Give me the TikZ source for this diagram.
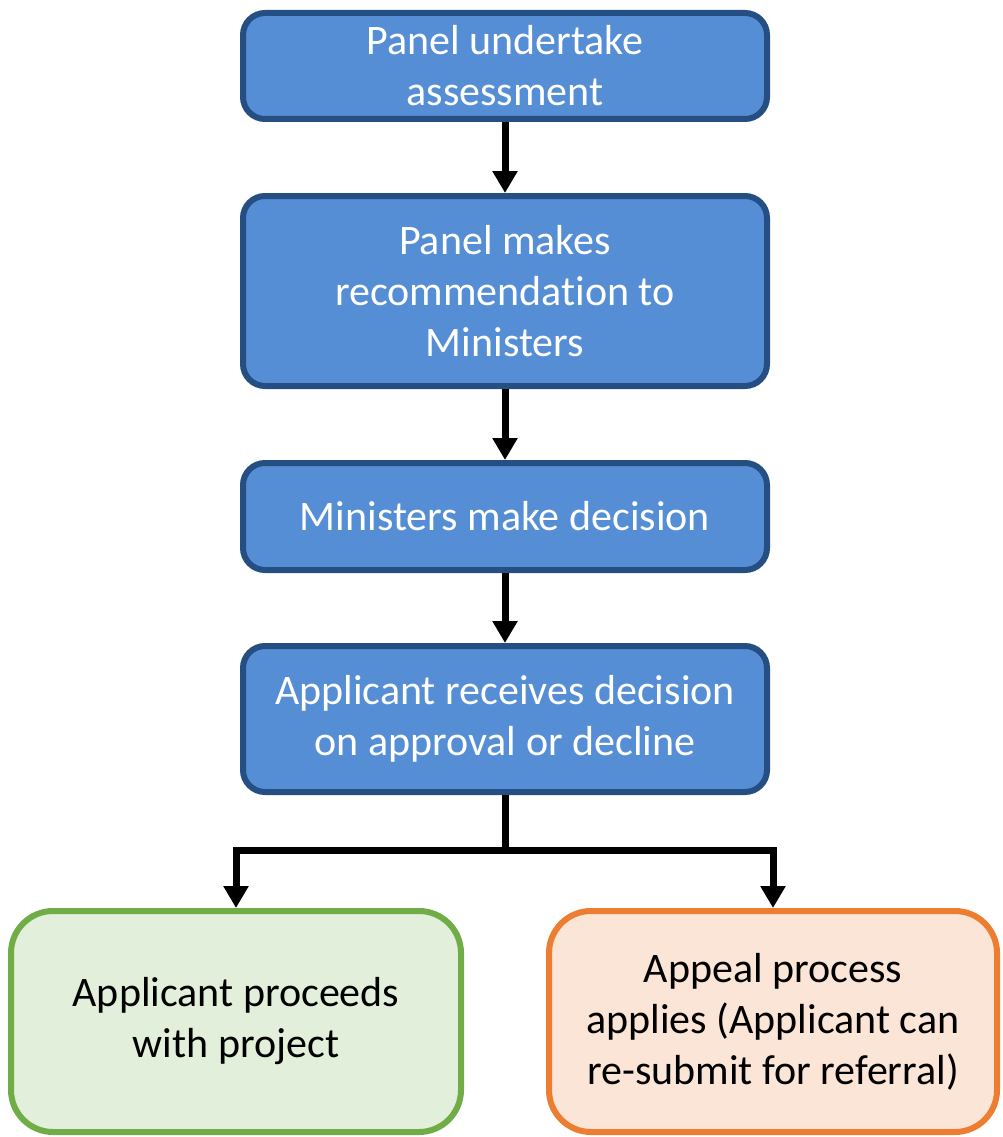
\documentclass[tikz,border=0pt]{standalone}
\usepackage{fontspec}
\setmainfont[Ligatures=NoCommon]{Carlito}
\usetikzlibrary{arrows.meta}

\definecolor{stepfill}{HTML}{558ED5}
\definecolor{stepline}{HTML}{254E82}
\definecolor{yesfill}{HTML}{E2EFDA}
\definecolor{yesline}{HTML}{70AD47}
\definecolor{nofill}{HTML}{FBE5D6}
\definecolor{noline}{HTML}{ED7D31}

\tikzset{
	stepbox/.style={draw=stepline, fill=stepfill, line width=6pt, rounded corners=22pt,
		minimum width=524pt, text=white, align=center,
		font=\fontsize{42}{51}\selectfont},
	endbox/.style={line width=6pt, rounded corners=42pt, minimum width=450pt,
		minimum height=221pt, align=center, font=\fontsize{42}{51}\selectfont},
	flow/.style={line width=7pt, -{Triangle[width=24pt,length=22pt]}}
}

\begin{document}
\begin{tikzpicture}[x=1pt, y=-1pt]
		\useasboundingbox (0,0) rectangle (1003,1137);
		
		%Blue steps
		\node[stepbox, minimum height=106pt] (assess) at (505,66) {Panel undertake\\assessment};
		\node[stepbox, minimum height=190pt] (recommend) at (505,291) {Panel makes\\recommendation to\\Ministers};
		\node[stepbox, minimum height=107pt] (decide) at (505,516.5) {Ministers make decision};
		\node[stepbox, minimum height=146pt] (receive) at (505,719) {Applicant receives decision\\on approval or decline};
		
		%Outcomes
		\node[endbox, draw=yesline, fill=yesfill] (proceed) at (236,1021.5) {Applicant proceeds\\with project};
		\node[endbox, draw=noline, fill=nofill, minimum width=448pt] (appeal) at (773,1021.5) {Appeal process\\applies (Applicant can\\re-submit for referral)};
		
		%Arrows
		\draw[flow] (assess) -- (recommend);
		\draw[flow] (recommend) -- (decide);
		\draw[flow] (decide) -- (receive);
		
		\coordinate (split) at (505,850);
		\draw[line width=7pt] (receive) -- (split);
		\draw[flow] (split) -| (proceed);
		\draw[flow] (split) -| (appeal);
		
\end{tikzpicture}
\end{document}
